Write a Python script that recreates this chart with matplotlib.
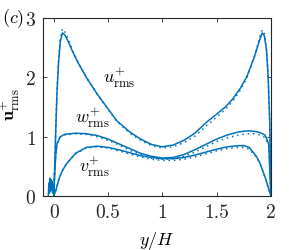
import matplotlib
matplotlib.use('Agg')
import matplotlib.pyplot as plt

plt.rcParams['font.family'] = 'serif'
plt.rcParams['font.serif'] = ['cmr10']
plt.rcParams['mathtext.fontset'] = 'cm'
plt.rcParams['axes.formatter.use_mathtext'] = True

blue = '#0072BD'

# u_rms+ (solid = present, dotted = reference)
u_y = [0.0, 0.01, 0.02, 0.03, 0.043, 0.06, 0.08, 0.10, 0.13, 0.17, 0.22, 0.30, 0.40, 0.50,
       0.58, 0.70, 0.80, 0.90, 1.00, 1.10, 1.20, 1.30, 1.41, 1.50, 1.58, 1.65, 1.72, 1.78,
       1.85, 1.90, 1.92, 1.94, 1.96, 1.975, 1.99, 2.0]
u_sol = [0.0, 0.55, 1.2, 1.75, 2.22, 2.6, 2.75, 2.72, 2.62, 2.45, 2.26, 2.0, 1.72, 1.47,
         1.27, 1.08, 0.96, 0.87, 0.83, 0.86, 0.94, 1.06, 1.25, 1.38, 1.5, 1.64, 1.82, 2.02,
         2.36, 2.65, 2.75, 2.7, 2.45, 2.0, 1.2, 0.0]
u_dot = [0.0, 0.6, 1.25, 1.8, 2.28, 2.66, 2.82, 2.78, 2.66, 2.47, 2.27, 2.0, 1.71, 1.46,
         1.26, 1.06, 0.94, 0.85, 0.81, 0.83, 0.9, 1.01, 1.19, 1.33, 1.46, 1.6, 1.79, 2.0,
         2.36, 2.7, 2.8, 2.74, 2.48, 2.02, 1.2, 0.0]

# w_rms+
w_y = [0.0, 0.01, 0.02, 0.03, 0.06, 0.10, 0.20, 0.30, 0.40, 0.50, 0.60, 0.70, 0.80, 0.90,
       1.00, 1.10, 1.20, 1.30, 1.40, 1.50, 1.60, 1.70, 1.79, 1.85, 1.90, 1.945, 1.98, 2.0]
w_sol = [0.0, 0.45, 0.72, 0.88, 1.0, 1.04, 1.06, 1.05, 1.02, 0.96, 0.88, 0.8, 0.72, 0.67,
         0.64, 0.65, 0.7, 0.78, 0.87, 0.96, 1.03, 1.08, 1.1, 1.09, 1.07, 1.03, 0.88, 0.0]
w_dot = [0.0, 0.45, 0.72, 0.88, 0.99, 1.03, 1.05, 1.04, 1.0, 0.94, 0.86, 0.77, 0.7, 0.64,
         0.62, 0.63, 0.67, 0.74, 0.83, 0.92, 0.98, 1.03, 1.05, 1.05, 1.03, 0.99, 0.86, 0.0]

# v_rms+
v_y = [0.0, 0.02, 0.03, 0.05, 0.08, 0.12, 0.20, 0.30, 0.40, 0.50, 0.60, 0.70, 0.80, 0.90,
       1.00, 1.10, 1.20, 1.30, 1.40, 1.50, 1.60, 1.70, 1.75, 1.80, 1.87, 1.90, 1.95, 2.0]
v_sol = [0.0, 0.1, 0.17, 0.3, 0.43, 0.55, 0.72, 0.82, 0.84, 0.82, 0.78, 0.73, 0.68, 0.65,
         0.63, 0.63, 0.65, 0.69, 0.74, 0.79, 0.83, 0.85, 0.85, 0.82, 0.66, 0.55, 0.3, 0.0]
v_dot = [0.0, 0.1, 0.17, 0.3, 0.43, 0.55, 0.71, 0.81, 0.83, 0.81, 0.76, 0.71, 0.66, 0.62,
         0.6, 0.6, 0.62, 0.66, 0.71, 0.76, 0.8, 0.82, 0.82, 0.79, 0.65, 0.54, 0.3, 0.0]

# noisy values inside the wall region
n_y = [-0.05, -0.045, -0.04, -0.035, -0.03, -0.025, -0.02, -0.015, -0.01, -0.005, 0.0]
n_val = [0.0, 0.22, 0.05, 0.3, 0.08, 0.28, 0.1, 0.25, 0.05, 0.2, 0.0]

xticks = [0, 0.5, 1, 1.5, 2]
xticklabels = ['0', '0.5', '1', '1.5', '2']
yticks = [0, 1, 2, 3]

fig = plt.figure(figsize=(3.0, 2.51), dpi=100)
ax = fig.add_axes([0.143, 0.215, 0.76, 0.709])

for y, sol, dot in [(u_y, u_sol, u_dot), (w_y, w_sol, w_dot), (v_y, v_sol, v_dot)]:
    ax.plot(y, sol, color=blue, lw=1.1)
    ax.plot(y, dot, color=blue, lw=1.1, ls=(0, (1, 2.5)))
ax.plot(n_y, n_val, color=blue, lw=1.1)

ax.set_xlim(-0.1, 2.0)
ax.set_ylim(0, 3)
ax.set_xticks(xticks)
ax.set_xticklabels(xticklabels)
ax.set_yticks(yticks)
ax.tick_params(direction='in', top=True, right=True, length=3, width=0.6,
               labelsize=14, colors='#262626')
ax.tick_params(axis='x', pad=5)
ax.tick_params(axis='y', pad=5)
for s in ax.spines.values():
    s.set_linewidth(0.8)
    s.set_color('#262626')

ax.set_xlabel(r'$y/H$', fontsize=13)
ax.xaxis.set_label_coords(0.5, -0.185)
ax.set_ylabel(r'$\mathbf{u}^{+}_{\mathrm{rms}}$', fontsize=13)
ax.yaxis.set_label_coords(-0.09, 0.52)

ax.text(0.45, 2.0, r'$u^{+}_{\mathrm{rms}}$', fontsize=13, ha='left', va='center')
ax.text(0.2, 1.33, r'$w^{+}_{\mathrm{rms}}$', fontsize=13, ha='left', va='center')
ax.text(0.23, 0.5, r'$v^{+}_{\mathrm{rms}}$', fontsize=13, ha='left', va='center')
fig.text(0.008, 0.925, r'$(c)$', fontsize=13, ha='left', va='center')

fig.savefig('out.png', dpi=100)
